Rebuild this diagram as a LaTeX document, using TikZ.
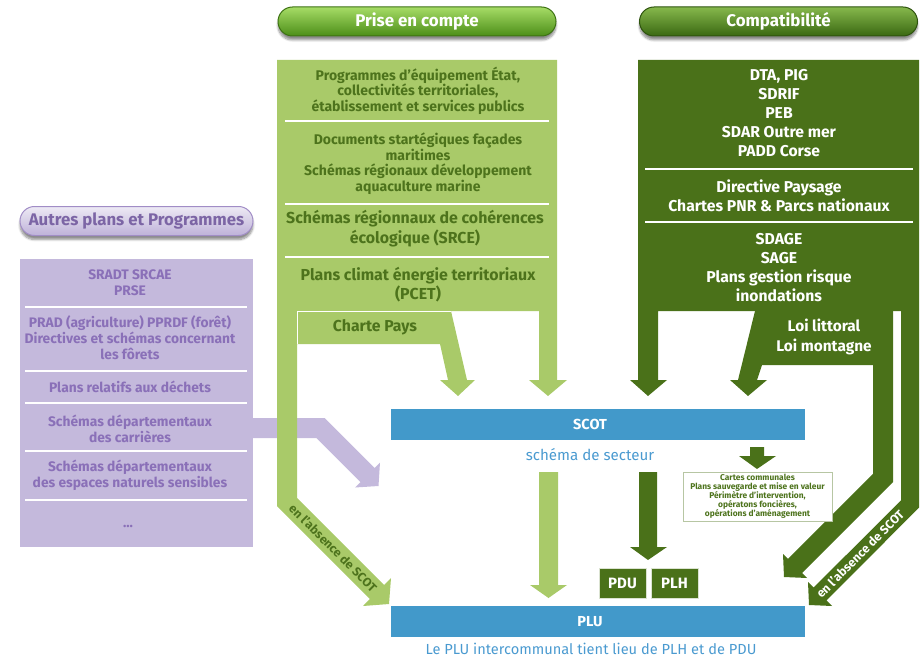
\documentclass[tikz,border=0pt]{standalone}
\usepackage{fontspec}
\setmainfont{Fira Sans}
\usetikzlibrary{shadows.blur}
\definecolor{lg}{HTML}{A9CA69}
\definecolor{dg}{HTML}{4A7119}
\definecolor{dgt}{HTML}{4D731C}
\definecolor{pu}{HTML}{C4B9DC}
\definecolor{put}{HTML}{8A70B8}
\definecolor{bl}{HTML}{4299CA}
\definecolor{blt}{HTML}{4A9AD0}
\definecolor{bAtop}{HTML}{A6DC66}
\definecolor{bAbot}{HTML}{4C8E18}
\definecolor{bBtop}{HTML}{86B84C}
\definecolor{bBbot}{HTML}{3A6812}
\begin{document}
\begin{tikzpicture}[x=1pt,y=-1pt,
  btn/.style={minimum width=#1, minimum height=29pt, rounded corners=14.5pt, line width=1pt, inner sep=0pt,
    blur shadow={shadow blur steps=8, shadow xshift=0pt, shadow yshift=-4pt, shadow opacity=45}},
  lgt/.style={text=dgt, align=center, font=\bfseries\fontsize{14}{15.5}\selectfont, inner sep=0pt},
  lgtb/.style={text=dgt, align=center, font=\bfseries\fontsize{15.9}{20}\selectfont, inner sep=0pt},
  dgt/.style={text=white, align=center, font=\bfseries\fontsize{15.7}{19}\selectfont, inner sep=0pt},
  put/.style={text=put, align=center, font=\bfseries\fontsize{13.8}{16}\selectfont, inner sep=0pt},
  bar/.style={fill=bl, minimum width=414pt, minimum height=31pt, inner sep=0pt, text=white, font=\bfseries\fontsize{14.5}{18}\selectfont},
  bluetext/.style={text=blt, font=\fontsize{15.1}{18}\selectfont, inner sep=0pt},
  smallbox/.style={fill=dg, draw=white!80!dg, line width=0.8pt, minimum width=47pt, minimum height=30pt, inner sep=0pt, text=white, font=\bfseries\fontsize{15}{16}\selectfont},
  sep/.style={white, line width=1.2pt}
]
\useasboundingbox (0,0) rectangle (924,658);

% ---------- purple column and arrow ----------
\fill[pu] (20,259) rectangle (253,547);
\fill[pu] (253,418) -- (324.6,418) -- (374.6,467.9) -- (380,462.5) -- (378.5,486) -- (355,487.5) -- (360.4,482.1) -- (316.4,438) -- (253,438) -- cycle;
\foreach \yy in {307,371,403,451,500} \draw[sep] (25,\yy) -- (247,\yy);

% ---------- light green column ----------
\fill[lg] (277,60) -- (557,60) -- (557,380) -- (567,380) -- (548,396) -- (529,380) -- (539,380) -- (539,311) -- (297,311) -- (297,497.9) -- (384.1,585) -- (391,578) -- (389,604) -- (363,606) -- (369.9,599) -- (277,506.1) -- cycle;
\fill[lg] (297,311) -- (451,311) -- (467,380) -- (475,380) -- (458,396) -- (440,380) -- (448,380) -- (440,344) -- (297,344) -- cycle;
\draw[white, line width=0.8pt] (297,344) -- (297,311) -- (451,311);
\foreach \yy in {121,204,257} \draw[sep] (285,\yy) -- (549,\yy);

% ---------- dark green column ----------
\fill[dg] (638,60) -- (919,60) -- (919,507.7) -- (826.4,600.4) -- (832,606) -- (809,605) -- (808,582) -- (813.6,587.6) -- (901,500.3) -- (901,311) -- (658,311) -- (658,380) -- (667,380) -- (648,396) -- (630,380) -- (638,380) -- cycle;
\fill[dg] (755,311) -- (893,311) -- (893,482.1) -- (802.1,573.1) -- (807,578) -- (784,577) -- (783,554) -- (787.9,558.9) -- (873,473.9) -- (873,365) -- (762,365) -- (757,380) -- (767,380) -- (748,396) -- (730,380) -- (738,380) -- cycle;
\foreach \yy in {169,222} \draw[sep] (645,\yy) -- (913,\yy);

% ---------- buttons ----------
\node[btn=278pt, top color=bAtop, bottom color=bAbot, draw=bAbot!80!black, text=white, font=\bfseries\fontsize{16.9}{18}\selectfont] (prise) at (417,21.5) {Prise en compte};
\node[btn=278pt, top color=bBtop, bottom color=bBbot, draw=bBbot!80!black, text=white, font=\bfseries\fontsize{16.9}{18}\selectfont] (compat) at (778.5,21.5) {Compatibilité};
\node[btn=233pt, top color=pu!30!white, bottom color=pu!90!put, draw=put!80!white, text=put!90!black, font=\bfseries\fontsize{16.8}{18}\selectfont] (autres) at (136.5,221) {Autres plans et Programmes};

% ---------- light green texts ----------
\node[lgt] (t1) at (418,90.5) {Programmes d’équipement État,\\collectivités territoriales,\\établissement et services publics};
\node[lgt] (t2) at (418,163.5) {Documents startégiques façades\\maritimes\\Schémas régionaux développement\\aquaculture marine};
\node[lgtb] (t3) at (415,229) {Schémas régionnaux de cohérences\\écologique (SRCE)};
\node[lgtb, font=\bfseries\fontsize{15.9}{19}\selectfont] (t4) at (418,284.5) {Plans climat énergie territoriaux\\(PCET)};
\node[lgtb, font=\bfseries\fontsize{15.8}{18}\selectfont] (charte) at (375,327) {Charte Pays};

% ---------- dark green texts ----------
\node[dgt] (d1) at (779,113) {DTA, PIG\\SDRIF\\PEB\\SDAR Outre mer\\PADD Corse};
\node[dgt] (d2) at (779,195.5) {Directive Paysage\\Chartes PNR \& Parcs nationaux};
\node[dgt] (d3) at (779,268) {SDAGE\\SAGE\\Plans gestion risque\\inondations};
\node[dgt, font=\bfseries\fontsize{15.4}{20}\selectfont] (loi) at (824,337) {Loi littoral\\Loi montagne};

% ---------- purple texts ----------
\node[put] (p1) at (130,283) {SRADT SRCAE\\PRSE};
\node[put] (p2) at (130,338) {PRAD (agriculture) PPRDF (forêt)\\Directives et schémas concernant\\les fôrets};
\node[put] (p3) at (130,387) {Plans relatifs aux déchets};
\node[put] (p4) at (130,429) {Schémas départementaux\\des carrières};
\node[put] (p5) at (130,475) {Schémas départementaux\\des espaces naturels sensibles};
\node[put] (p6) at (128,526) {...};

% ---------- rotated labels ----------
\node[text=dgt, font=\bfseries\fontsize{12.3}{14}\selectfont, rotate=-45, inner sep=0pt] (abs1) at (333,548) {en l’absence de SCOT};
\node[text=white, font=\bfseries\fontsize{12.3}{14}\selectfont, rotate=45, inner sep=0pt] (abs2) at (860,554) {en l’absence de SCOT};

% ---------- centre ----------
\node[bar] (scot) at (598,424.5) {\hspace*{-16pt}SCOT};
\node[bluetext] (secteur) at (590,455) {schéma de secteur};
\node[bar] (plu) at (598,621.5) {\hspace*{-16pt}PLU};
\node[bluetext, font=\fontsize{14.6}{18}\selectfont] (intercom) at (591,649) {Le PLU intercommunal tient lieu de PLH et de PDU};

\fill[lg] (539,472) -- (558,472) -- (558,585) -- (567,585) -- (548.5,598) -- (530,585) -- (539,585) -- cycle;
\fill[dg] (639,472) -- (657,472) -- (657,547) -- (667,547) -- (648,560) -- (630,547) -- (639,547) -- cycle;
\fill[dg] (750,447) -- (764,447) -- (764,456) -- (776,456) -- (757,469) -- (739,456) -- (750,456) -- cycle;

\node[smallbox] (pdu) at (622.5,583) {PDU};
\node[smallbox] (plh) at (674.5,583) {PLH};

\node[draw=dg!40!white, fill=white, line width=0.8pt, minimum width=149pt, minimum height=49pt, inner sep=0pt, text=dgt, align=center, font=\bfseries\fontsize{8.4}{9}\selectfont] (cartes) at (757.5,496.5) {Cartes communales\\Plans sauvegarde et mise en valeur\\Périmètre d’intervention,\\opératons foncières,\\opérations d’aménagement};
\end{tikzpicture}
\end{document}
